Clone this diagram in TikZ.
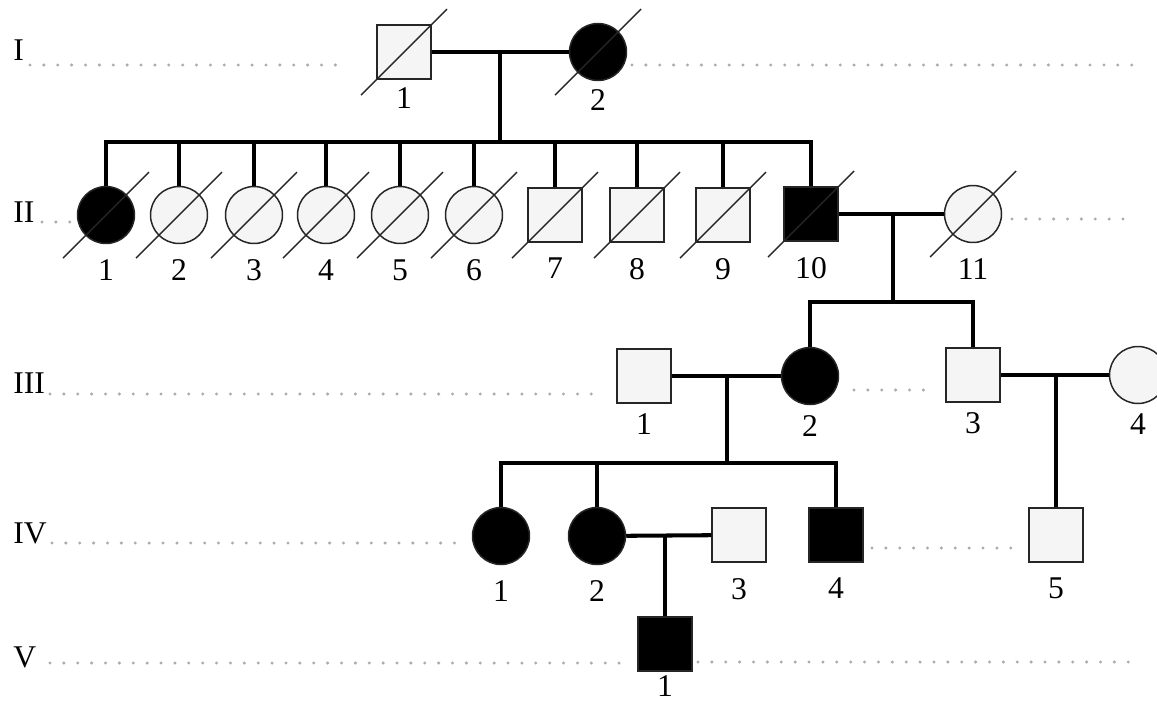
\documentclass[tikz,border=0pt]{standalone}
\usepackage{fontspec}
\setmainfont{Liberation Serif}
\usepackage{tikz}

\tikzset{
  sym/.style={draw=black!85, line width=0.85pt, inner sep=0pt},
  male/.style={sym, rectangle, minimum size=1.08cm, fill=gray!8},
  female/.style={sym, circle, minimum size=1.14cm, fill=gray!8},
  ill/.style={fill=black},
  bond/.style={line width=2.3pt},
  slash/.style={line width=0.8pt, black!85},
  dots/.style={gray!65, line width=1.9pt, line cap=round, dash pattern=on 0pt off 7.9pt},
  gen/.style={anchor=base west, inner sep=0pt},
  every label/.style={inner sep=0pt}
}
\newcommand{\dead}[1]{\draw[slash] ([shift={(-43,43)}]#1.center) -- ([shift={(43,-43)}]#1.center);}

\begin{document}
\begin{tikzpicture}[x=0.02cm, y=-0.02cm, font=\fontsize{18}{21}\selectfont]
\useasboundingbox (0,0) rectangle (1157,704);
\draw[dots] (30,65)--(348,65);
\draw[dots] (632,65)--(1135,65);
\draw[dots] (42,222)--(73,222);
\draw[dots] (1012,219)--(1128,219);
\draw[dots] (50,394)--(595,394);
\draw[dots] (854,390)--(928,390);
\draw[dots] (52,543)--(457,543);
\draw[dots] (872,548)--(1016,548);
\draw[dots] (50,663)--(623,663);
\draw[dots] (698,662)--(1142,662);

\node[gen] (gI) at (13,60) {I};
\node[gen] (gII) at (13,222) {II};
\node[gen] (gIII) at (13,393) {III};
\node[gen] (gIV) at (13,543) {IV};
\node[gen] (gV) at (13,667) {V};

\begin{scope}[label distance=0.16cm]
\node[male, label=below:1] (I1) at (404,52) {};
\node[female, ill, label=below:2] (I2) at (598,52) {};
\end{scope}

\begin{scope}[label distance=0.3cm]
\node[female, ill, label=below:1] (II1) at (106,215) {};
\node[female, label=below:2] (II2) at (179,215) {};
\node[female, label=below:3] (II3) at (254,215) {};
\node[female, label=below:4] (II4) at (326,215) {};
\node[female, label=below:5] (II5) at (400,215) {};
\node[female, label=below:6] (II6) at (474,215) {};
\node[male, label=below:7] (II7) at (555,215) {};
\node[male, label=below:8] (II8) at (637,215) {};
\node[male, label=below:9] (II9) at (723,215) {};
\node[male, ill, label=below:10] (II10) at (811,214) {};
\node[female, label=below:11] (II11) at (973,214) {};
\end{scope}

\begin{scope}[label distance=0.19cm]
\node[male, label=below:1] (III1) at (644,376) {};
\node[female, ill, label=below:2] (III2) at (810,376) {};
\node[male, label=below:3] (III3) at (973,375) {};
\node[female, label=below:4] (III4) at (1138,375) {};
\end{scope}

\begin{scope}[label distance=0.3cm]
\node[female, ill, label=below:1] (IV1) at (501,536) {};
\node[female, ill, label=below:2] (IV2) at (597,536) {};
\node[male, label=below:3] (IV3) at (739,535) {};
\node[male, ill, label=below:4] (IV4) at (836,535) {};
\node[male, label=below:5] (IV5) at (1056,535) {};
\end{scope}

\node[male, ill, label={[label distance=0.08cm]below:1}] (V1) at (665,644) {};

\foreach \p in {I1,I2,II1,II2,II3,II4,II5,II6,II7,II8,II9,II10,II11}
  {\dead{\p}}

\coordinate (m1) at (500,52);
\coordinate (s1) at (500,142);
\draw[bond] (I1) -- (I2);
\draw[bond] (m1) -- (s1);
\foreach \c in {II1,II2,II3,II4,II5,II6,II7,II8,II9,II10}
  \draw[bond] (s1) -| (\c);

\coordinate (m2) at (893,214);
\coordinate (s2) at (893,302);
\draw[bond] (II10) -- (II11);
\draw[bond] (m2) -- (s2);
\foreach \c in {III2,III3}
  \draw[bond] (s2) -| (\c);

\coordinate (m3) at (727,376);
\coordinate (s3) at (727,463);
\draw[bond] (III1) -- (III2);
\draw[bond] (m3) -- (s3);
\foreach \c in {IV1,IV2,IV4}
  \draw[bond] (s3) -| (\c);

\coordinate (m4) at (1056,375);
\draw[bond] (III3) -- (III4);
\draw[bond] (m4) -- (IV5);

\coordinate (m5) at (665,536);
\draw[bond] (IV2) -- (IV3);
\draw[bond] (m5) -- (V1);
\end{tikzpicture}
\end{document}
